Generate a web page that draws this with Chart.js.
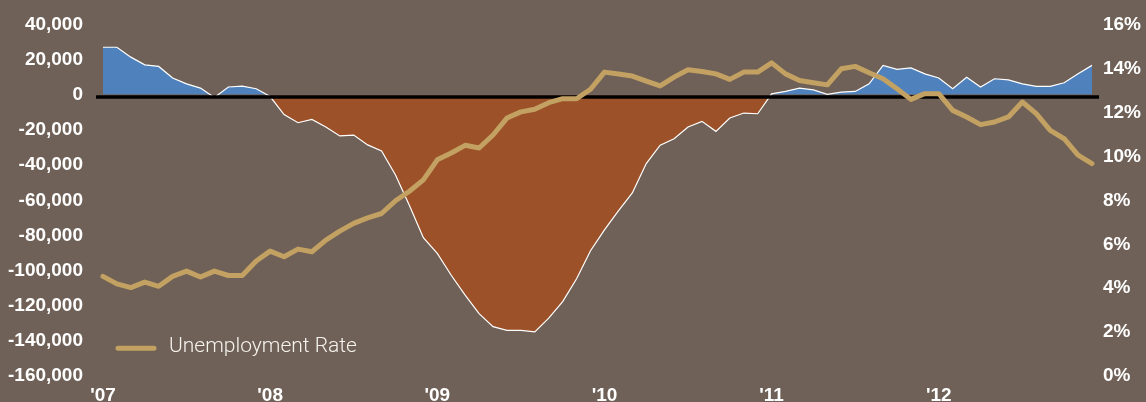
<!DOCTYPE html>
<html>
<head>
<meta charset="utf-8">
<script src="https://cdn.jsdelivr.net/npm/chart.js@4.4.1/dist/chart.umd.min.js"></script>
<style>
  html, body { margin: 0; padding: 0; background: #6f6157; }
  #wrap { width: 1146px; height: 402px; position: relative; }
</style>
</head>
<body>
<div id="wrap"><canvas id="myChart"></canvas></div>
<script>
// monthly, Jan 2007 - Dec 2012
var years = ['2007', '2008', '2009', '2010', '2011', '2012'];
var yearTicks = ["'07", "'08", "'09", "'10", "'11", "'12"];
var monthNames = ['Jan', 'Feb', 'Mar', 'Apr', 'May', 'Jun', 'Jul', 'Aug', 'Sep', 'Oct', 'Nov', 'Dec'];

// monthly job change (left axis)
var jobs = [
   27000, 27000, 21400, 17000, 16100, 9500, 6200, 3800, -1500, 4400, 4900, 3400,
   -1000, -11300, -15900, -14000, -18300, -23400, -22900, -28500, -31900, -45600, -63000, -81300,
   -90200, -102600, -113900, -124400, -131800, -133900, -133900, -134800, -127000, -117600, -104600, -88700,
   -76800, -66000, -55800, -39100, -28700, -25000, -18300, -15100, -20800, -13200, -10400, -10800,
   500, 1900, 3800, 2800, 200, 1500, 1900, 6200, 16700, 14400, 15300, 11900,
   9500, 3400, 10000, 4400, 9100, 8500, 6200, 4800, 4800, 6800, 11900, 16700
];

// unemployment rate in % (right axis)
var unemployment = [
   4.54, 4.2, 4.03, 4.28, 4.09, 4.54, 4.78, 4.51, 4.78, 4.58, 4.58, 5.24,
   5.69, 5.43, 5.78, 5.66, 6.19, 6.6, 6.95, 7.2, 7.4, 7.98, 8.41, 8.93,
   9.84, 10.15, 10.5, 10.38, 10.97, 11.74, 12.02, 12.14, 12.44, 12.62, 12.62, 13.05,
   13.83, 13.74, 13.65, 13.42, 13.2, 13.6, 13.94, 13.86, 13.75, 13.5, 13.83, 13.83,
   14.25, 13.75, 13.45, 13.35, 13.25, 13.98, 14.09, 13.8, 13.53, 13.07, 12.59, 12.85,
   12.85, 12.09, 11.79, 11.44, 11.56, 11.79, 12.47, 11.94, 11.18, 10.8, 10.05, 9.67
];

var labels = [];
years.forEach(function(y) {
   monthNames.forEach(function(m) { labels.push(m + ' ' + y); });
});

var rateColor = '#c2a162';
var tickFont = { family: '"Liberation Sans", Arial, sans-serif', size: 19, weight: 'bold' };

// black zero line, drawn over the area but under the rate line
var zeroLine = {
   id: 'zeroLine',
   afterDatasetDraw: function(chart, args) {
      if (args.index !== 1) return;
      var ctx = chart.ctx, ca = chart.chartArea;
      var y = chart.scales.y.getPixelForValue(0);
      ctx.save();
      ctx.strokeStyle = '#000';
      ctx.lineWidth = 3.5;
      ctx.beginPath();
      ctx.moveTo(ca.left, y + 2.2);
      ctx.lineTo(ca.right, y + 2.2);
      ctx.stroke();
      ctx.restore();
   }
};

// legend in the lower left of the plot
var rateLegend = {
   id: 'rateLegend',
   afterDraw: function(chart) {
      var ctx = chart.ctx, ca = chart.chartArea;
      var ds = chart.data.datasets[0];
      var ly = ca.bottom - 28;
      ctx.save();
      ctx.strokeStyle = ds.borderColor;
      ctx.lineWidth = 5;
      ctx.lineCap = 'round';
      ctx.beginPath();
      ctx.moveTo(ca.left + 22, ly);
      ctx.lineTo(ca.left + 58, ly);
      ctx.stroke();
      ctx.fillStyle = '#f6f2ee';
      ctx.font = '300 21px Roboto, "Liberation Sans", sans-serif';
      ctx.textBaseline = 'middle';
      ctx.fillText(ds.label, ca.left + 73, ly - 1);
      ctx.restore();
   }
};

var ctx = document.getElementById('myChart').getContext('2d');
var chart = new Chart(ctx, {
   type: 'line',
   data: {
      labels: labels,
      datasets: [{
         label: 'Unemployment Rate',
         data: unemployment,
         yAxisID: 'y1',
         order: 0,
         borderColor: rateColor,
         borderWidth: 5,
         borderJoinStyle: 'round',
         borderCapStyle: 'round',
         pointRadius: 0,
         tension: 0,
         fill: false
      }, {
         label: 'Jobs',
         data: jobs,
         yAxisID: 'y',
         order: 1,
         borderColor: '#ffffff',
         borderWidth: 1.2,
         pointRadius: 0,
         tension: 0,
         fill: { target: 'origin', above: '#4f81bd', below: '#9c5128' }
      }]
   },
   options: {
      responsive: true,
      maintainAspectRatio: false,
      animation: false,
      layout: { padding: { left: -5, right: 1, top: 21, bottom: -13 } },
      plugins: {
         legend: { display: false },
         tooltip: { enabled: false }
      },
      scales: {
         x: {
            type: 'category',
            offset: true,
            grid: { display: false, drawTicks: false },
            border: { display: false },
            ticks: {
               autoSkip: false,
               maxRotation: 0,
               padding: 8,
               color: '#ffffff',
               font: tickFont,
               callback: function(val, idx) {
                  return idx % 12 === 0 ? yearTicks[idx / 12] : null;
               }
            }
         },
         y: {
            position: 'left',
            min: -160000,
            max: 40000,
            grid: { display: false, drawTicks: false },
            border: { display: false },
            ticks: {
               stepSize: 20000,
               padding: 13,
               color: '#ffffff',
               font: tickFont,
               callback: function(v) { return v.toLocaleString('en-US'); }
            }
         },
         y1: {
            position: 'right',
            min: 0,
            max: 16,
            grid: { display: false, drawTicks: false },
            border: { display: false },
            ticks: {
               stepSize: 2,
               padding: 4,
               color: '#ffffff',
               font: tickFont,
               callback: function(v) { return v + '%'; }
            }
         }
      }
   },
   plugins: [zeroLine, rateLegend]
});
</script>
</body>
</html>
